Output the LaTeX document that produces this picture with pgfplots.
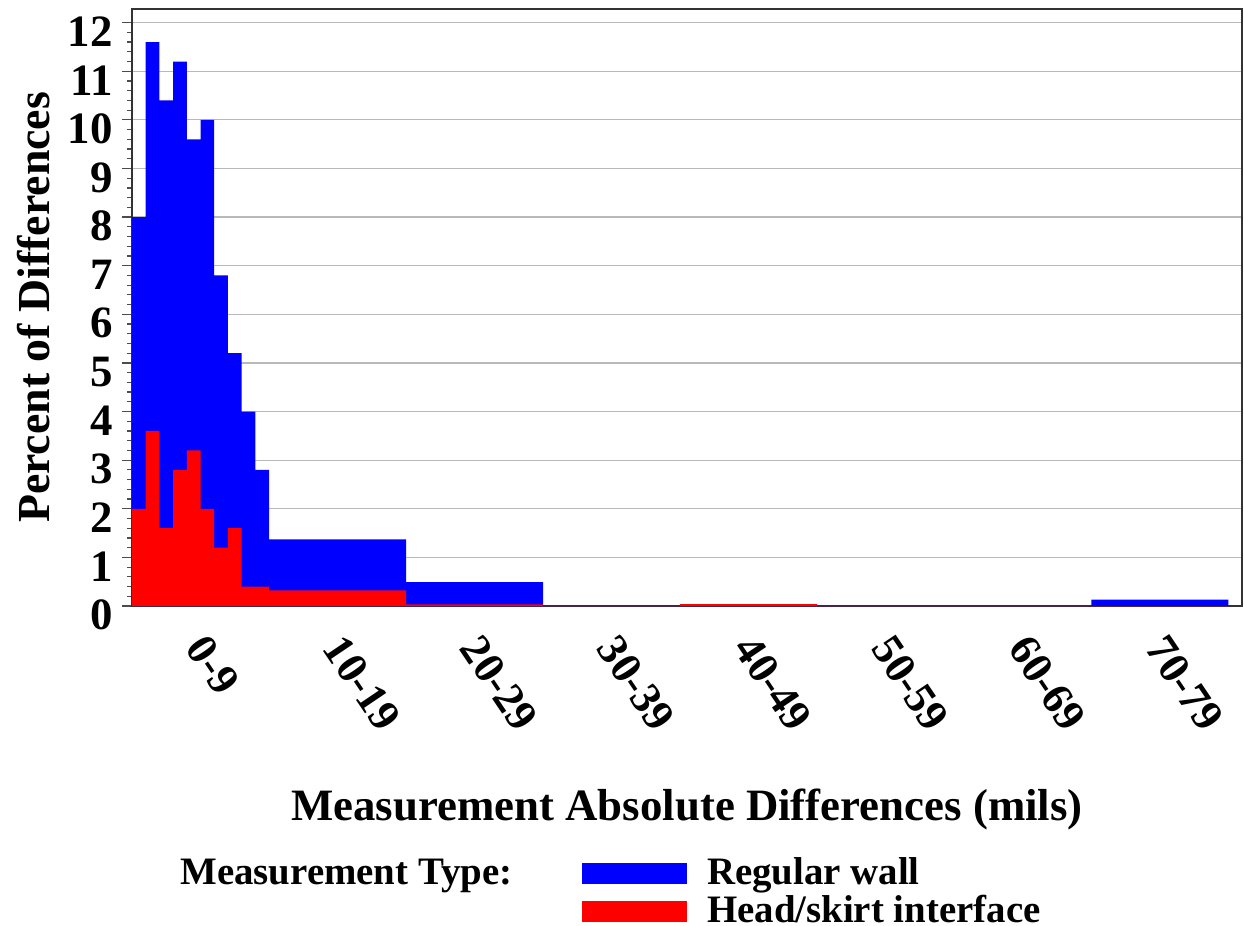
\documentclass[border=0pt]{standalone}
\usepackage{fontspec}
\setmainfont{Liberation Serif}
\usepackage{pgfplots}
\pgfplotsset{compat=1.18}

\begin{document}
\begin{tikzpicture}
  \useasboundingbox (-66bp,-160bp) rectangle (556bp,303bp);
  \begin{axis}[
      scale only axis,
      width=555bp,
      height=298.5bp,
      xmin=0, xmax=81,
      ymin=0, ymax=12.28,
      axis line style={black!80, line width=0.8bp},
      xtick={5,15,...,75},
      xticklabels={0-9,10-19,20-29,30-39,40-49,50-59,60-69,70-79},
      xtick style={draw=none},
      ytick={0,...,12},
      minor y tick num=4,
      ytick pos=left,
      tick align=outside,
      major tick length=5bp,
      minor tick length=2.5bp,
      tick style={black!70, line width=0.6bp},
      ymajorgrids,
      major grid style={gray!55, line width=0.6bp},
      /pgf/number format/assume math mode=true,
      yticklabel style={font=\fontsize{22.5}{22.5}\selectfont\bfseries,
        anchor=east, inner sep=0pt, xshift=-4.5bp, yshift=-4.5bp},
      xticklabel style={font=\fontsize{22}{22}\selectfont\bfseries,
        xshift=4.3bp, yshift=-8bp, rotate=-56, anchor=north west, inner sep=0pt},
      xlabel={Measurement Absolute Differences (mils)},
      ylabel={Percent of Differences},
      xlabel style={font=\fontsize{22.5}{22.5}\selectfont\bfseries,
        at={(axis description cs:0.5,-0.3585)}, anchor=base, inner sep=0pt},
      ylabel style={font=\fontsize{23}{23}\selectfont\bfseries,
        at={(axis description cs:-0.0884,0.5)}, anchor=center, inner sep=0pt},
      legend style={draw=none, fill=none,
        at={(axis description cs:0.4052,-0.4221)}, anchor=north west,
        font=\fontsize{19.5}{19.5}\selectfont\bfseries,
        inner sep=0pt, column sep=10bp, row sep=4bp,
        nodes={inner sep=0pt, text height=13bp, text depth=2bp}},
      legend cell align=left,
    ]
    % Regular wall
    \addplot[const plot, fill=blue, draw=none,
      legend image code/.code={\fill[blue] (0bp,-5.5bp) rectangle (52.5bp,5.3bp);}]
      coordinates {
        (0,8.0) (1,11.6) (2,10.4) (3,11.2) (4,9.6) (5,10.0) (6,6.8) (7,5.2)
        (8,4.0) (9,2.8) (10,1.37) (20,0.49) (30,0) (40,0) (50,0) (60,0)
        (70,0.13) (80,0.13)
      } \closedcycle;
    \addlegendentry{Regular wall}
    % Head/skirt interface
    \addplot[const plot, fill=red, draw=none,
      legend image code/.code={\fill[red] (0bp,-5.5bp) rectangle (52.5bp,5.3bp);}]
      coordinates {
        (0,2.0) (1,3.6) (2,1.6) (3,2.8) (4,3.2) (5,2.0) (6,1.2) (7,1.6)
        (8,0.4) (9,0.4) (10,0.32) (20,0.035) (30,0) (40,0.04) (50,0) (60,0)
        (70,0) (80,0)
      } \closedcycle;
    \addlegendentry{Head/skirt interface}
  \end{axis}
  \node[anchor=base west, inner sep=0pt, font=\fontsize{19.5}{19.5}\selectfont\bfseries]
    at (24bp,-139bp) {Measurement Type:};
\end{tikzpicture}
\end{document}
